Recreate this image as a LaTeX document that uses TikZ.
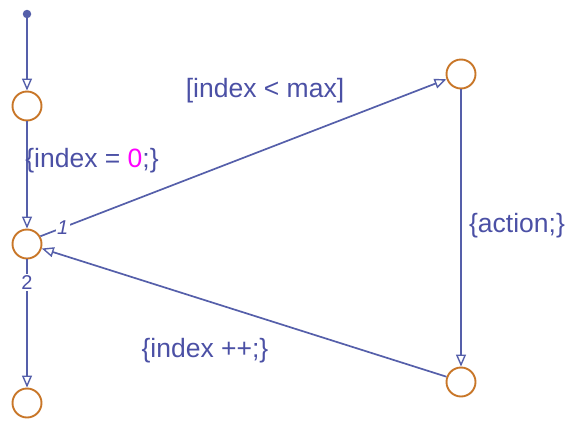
\documentclass[tikz,border=0pt]{standalone}
\usepackage{fontspec}
\setmainfont{Liberation Sans}
\usetikzlibrary{arrows.meta}
\definecolor{wire}{RGB}{85,95,170}
\definecolor{lab}{RGB}{75,80,165}
\definecolor{ring}{RGB}{200,118,40}
\definecolor{mag}{RGB}{255,0,255}
\tikzset{
  x=1pt, y=-1pt,
  st/.style={circle, draw=ring, line width=1.9pt, minimum size=29pt, inner sep=0pt},
  tr/.style={draw=wire, line width=1.7pt, -{Triangle[open, length=12pt, width=10pt, line width=1.4pt]}},
  lbl/.style={text=lab, font=\fontsize{26.5}{30}\selectfont, inner sep=1pt},
  num/.style={text=lab, font=\fontsize{20}{22}\selectfont, fill=white, inner sep=1.5pt}
}
\begin{document}
\begin{tikzpicture}
\useasboundingbox (0,0) rectangle (570,421);
\node[circle, fill=wire, minimum size=8.5pt, inner sep=0pt] (s) at (27,14) {};
\node[st] (a) at (27,106) {};
\node[st] (j) at (27,244) {};
\node[st] (b) at (27,403) {};
\node[st] (c) at (461,74) {};
\node[st] (d) at (461,382) {};
\draw[tr] (s) -- (a);
\draw[tr] (a) -- (j);
\draw[tr] (j) -- node[num, pos=0.18] (n2) {2} (b);
\draw[tr] (j.30) -- node[num, pos=0.055] (n1) {\itshape 1} (c.200);
\draw[tr] (d.160) -- (j.-17);
\draw[tr] (c) -- (d);
\node[lbl] (l1) at (92,161) {\{index = \textcolor{mag}{0};\}};
\node[lbl] (l2) at (265,91) {[index < max]};
\node[lbl] (l3) at (517,226) {\{action;\}};
\node[lbl] (l4) at (205,351) {\{index ++;\}};
\end{tikzpicture}
\end{document}
